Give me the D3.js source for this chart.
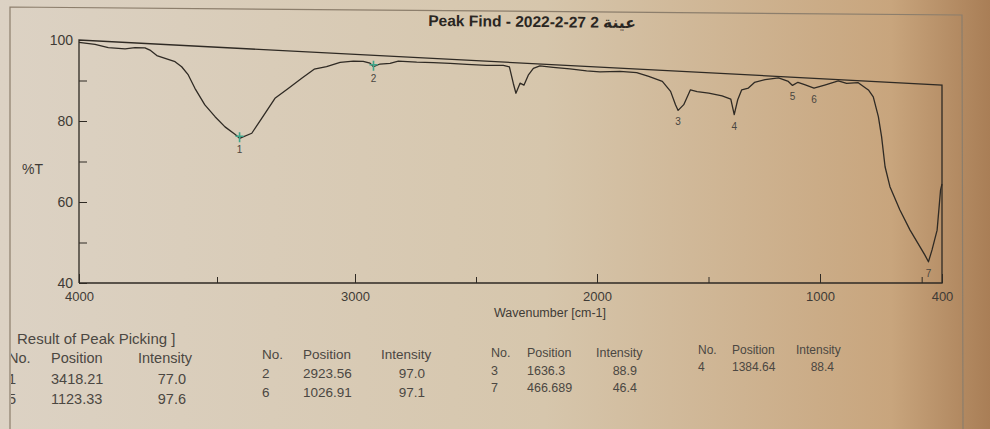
<!DOCTYPE html>
<html>
<head>
<meta charset="utf-8">
<script src="https://cdn.jsdelivr.net/npm/d3@7"></script>
<style>
  html, body { margin: 0; padding: 0; background: #d8ccb8; }
  svg { display: block; font-family: "Liberation Sans", Arial, "DejaVu Sans", sans-serif; }
</style>
</head>
<body>
<div id="pict"></div>
<script>
// spectrum: wavenumber [cm-1] and %T
const wavenumber = [4000, 3942, 3894, 3833, 3797, 3761, 3743, 3718, 3688, 3652, 3628, 3604, 3580, 3544, 3507, 3471, 3435, 3418.21,
    3374, 3338, 3290, 3242, 3193, 3148, 3103, 3054, 3006, 2966, 2938, 2923.56, 2897, 2855, 2821, 2745, 2676, 2607, 2538, 2456,
    2387, 2362, 2346, 2335, 2318, 2302, 2284, 2263, 2236, 2181, 2112, 2043, 1987, 1897, 1822, 1768, 1707, 1670, 1648, 1636.3,
    1611, 1581, 1551, 1499, 1439, 1400, 1384.64, 1369, 1351, 1321, 1294, 1246, 1186, 1142, 1123.33, 1099, 1069, 1026.91,
    977, 910, 869, 812, 762, 738, 713, 697, 680, 656, 607, 557, 508, 484, 466.689, 449, 424, 407, 400];
const transmittance = [99.4, 99.1, 98.5, 98.4, 98.8, 98.9, 98.4, 97.1, 96.5, 95.8, 94.6, 92.6, 89.3, 85.2, 82.3, 79.8, 78.0, 77.0,
    78.4, 82.3, 87.6, 90.3, 93.1, 95.6, 96.4, 97.7, 98.2, 98.3, 97.9, 97.0, 97.8, 98.1, 98.8, 98.8, 98.9, 98.9, 98.9, 98.9,
    99.1, 98.8, 94.4, 91.7, 94.5, 94.0, 96.8, 98.7, 99.5, 99.3, 99.1, 98.8, 98.7, 99.1, 99.0, 98.1, 96.9, 94.2, 90.5, 88.9,
    90.6, 94.9, 94.5, 94.2, 93.6, 92.8, 88.4, 92.7, 95.6, 96.2, 97.9, 98.9, 99.6, 98.7, 97.6, 98.6, 98.0, 97.1,
    98.2, 99.6, 99.0, 99.4, 97.4, 95.4, 89.6, 83.6, 74.7, 68.8, 61.9, 55.9, 50.9, 48.4, 46.4, 50.0, 56.0, 68.2, 70.0];

// peak picking result
const peakNo = [1, 2, 3, 4, 5, 6, 7];
const peakPos = [3418.21, 2923.56, 1636.3, 1384.64, 1123.33, 1026.91, 466.689];
const peakPosText = ["3418.21", "2923.56", "1636.3", "1384.64", "1123.33", "1026.91", "466.689"];
const peakInt = [77.0, 97.0, 88.9, 88.4, 97.6, 97.1, 46.4];

const xTicks = [4000, 3000, 2000, 1000, 400];
const xMinorTicks = [3500, 2500, 1500, 500];
const yTicks = [40, 50, 60, 70, 80, 90, 100];
const yLabelled = [40, 60, 80, 100];

const titleText = "Peak Find - 2022-2-27 2 عينة";
const xTitle = "Wavenumber [cm-1]";
const yTitle = "%T";
const tableTitle = "Result of Peak Picking ]";
const tableHead = ["No.", "Position", "Intensity"];

const width = 990, height = 429;

draw_pict();

function draw_pict() {
    const config = {
        left: 79, bottom: 283,
        // the photo is taken at an angle: the top of the frame falls to the right
        hLeft: 243, hRight: 198,
        ink: "#2f2a24",
        text: "#3f3b36",
        green: "#3fa58a"
    }
    const svg = d3.select("#pict")
        .append("svg")
        .attr("width", width)
        .attr("height", height)

    // screen background
    const defs = svg.append("defs")
    const grad = defs.append("linearGradient").attr("id", "bg")
    grad.append("stop").attr("offset", "0%").attr("stop-color", "#dcd2c4")
    grad.append("stop").attr("offset", "55%").attr("stop-color", "#d6c6ac")
    grad.append("stop").attr("offset", "90%").attr("stop-color", "#c8a57d")
    grad.append("stop").attr("offset", "100%").attr("stop-color", "#a97e56")
    defs.append("clipPath").attr("id", "win")
        .append("rect").attr("x", 11).attr("y", 0).attr("width", 950).attr("height", height)
    svg.append("rect").attr("width", width).attr("height", height).attr("fill", "url(#bg)")

    // window border
    svg.append("path")
        .attr("d", "M10,429 L10,7 L962,15 L963,429")
        .attr("fill", "none")
        .attr("stroke", "#8c7e6c")
        .attr("stroke-width", 1.2)

    const scale_x = d3.scaleLinear()
        .domain([4000, 3000, 2000, 1000, 400])
        .range([config.left, 355, 597, 820, 942]);
    const scale_y = d3.scaleLinear()
        .domain([40, 100])
        .range([config.bottom, config.bottom - config.hLeft]);
    const scale_h = d3.scaleLinear()
        .domain([config.left, 942])
        .range([config.hLeft, config.hRight]);
    const frac = d3.scaleLinear().domain([40, 100]).range([0, 1]);

    const px = (w) => scale_x(w);
    const py = (w, t) => config.bottom - frac(t) * scale_h(scale_x(w));

    // frame
    svg.append("path")
        .attr("d", d3.line()([[px(4000), py(4000, 40)], [px(4000), py(4000, 100)], [px(400), py(400, 100)], [px(400), py(400, 40)], [px(4000), py(4000, 40)]]))
        .attr("fill", "none")
        .attr("stroke", config.ink)
        .attr("stroke-width", 1.3)

    // y axis
    const axis_y = d3.axisLeft(scale_y)
        .tickValues(yTicks)
        .tickSizeInner(-8)
        .tickSizeOuter(0)
        .tickPadding(6)
        .tickFormat(d => yLabelled.includes(d) ? d : "")
    const g_axisY = svg.append("g")
        .attr("transform", `translate(${config.left}, 0)`)
        .call(axis_y)
    g_axisY.select(".domain").remove()
    g_axisY.selectAll("line").attr("stroke", config.ink)
    g_axisY.selectAll("text")
        .attr("font-size", "14px")
        .attr("font-family", "Liberation Sans, Arial, sans-serif")
        .attr("fill", config.text)

    // x axis
    const axis_x = d3.axisBottom(scale_x)
        .tickValues(xTicks)
        .tickSizeInner(-9)
        .tickSizeOuter(0)
        .tickPadding(9)
        .tickFormat(d3.format("d"))
    const g_axisX = svg.append("g")
        .attr("transform", `translate(0, ${config.bottom})`)
        .call(axis_x)
    g_axisX.select(".domain").remove()
    g_axisX.selectAll("line").attr("stroke", config.ink)
    g_axisX.selectAll("text")
        .attr("font-size", "13px")
        .attr("font-family", "Liberation Sans, Arial, sans-serif")
        .attr("fill", config.text)
    const axis_x_minor = d3.axisBottom(scale_x)
        .tickValues(xMinorTicks)
        .tickSizeInner(-6)
        .tickSizeOuter(0)
        .tickFormat("")
    const g_minor = svg.append("g")
        .attr("transform", `translate(0, ${config.bottom})`)
        .call(axis_x_minor)
    g_minor.select(".domain").remove()
    g_minor.selectAll("line").attr("stroke", config.ink)

    // axis titles
    svg.append("text")
        .attr("x", 550).attr("y", 317)
        .attr("text-anchor", "middle")
        .attr("font-size", "12.5px")
        .attr("fill", config.text)
        .text(xTitle)
    svg.append("text")
        .attr("x", 22).attr("y", 174)
        .attr("font-size", "14px")
        .attr("fill", config.text)
        .text(yTitle)

    // title
    svg.append("text")
        .attr("x", 532).attr("y", 27)
        .attr("text-anchor", "middle")
        .attr("font-size", "15.5px")
        .attr("font-weight", "bold")
        .attr("fill", "#2a2622")
        .attr("transform", "rotate(0.6, 532, 27)")
        .text(titleText)

    // spectrum
    const data = wavenumber.map((w, i) => ({ w: w, t: transmittance[i] }))
    svg.append("path")
        .datum(data)
        .attr("d", d3.line().x(d => px(d.w)).y(d => py(d.w, d.t)))
        .attr("fill", "none")
        .attr("stroke", config.ink)
        .attr("stroke-width", 1.3)
        .attr("stroke-linejoin", "round")

    // peak markers and numbers
    const peaks = peakNo.map((n, i) => ({ n: n, w: peakPos[i], t: peakInt[i] }))
    const g_peak = svg.append("g")
    g_peak.selectAll("path.mark")
        .data(peaks.filter(d => d.n <= 2))
        .join("path")
        .attr("class", "mark")
        .attr("d", d => {
            const x = px(d.w), y = py(d.w, d.t)
            return `M${x - 4},${y - 2}L${x + 4},${y - 2}M${x},${y - 6}L${x},${y + 4}`
        })
        .attr("stroke", config.green)
        .attr("stroke-width", 1.6)
    g_peak.selectAll("text")
        .data(peaks)
        .join("text")
        .attr("x", d => px(d.w))
        .attr("y", d => py(d.w, d.t) + 15)
        .attr("text-anchor", "middle")
        .attr("font-size", "10px")
        .attr("fill", "#4a4640")
        .text(d => d.n)

    // peak table, four groups laid out along the tilted screen
    const groups = [
        { no: 8, pos: 51, int: 138, head: 363, row: 20.5, size: 14.5, iEnd: 186 },
        { no: 262, pos: 303, int: 381, head: 359, row: 19, size: 13.5, iEnd: 425 },
        { no: 491, pos: 527, int: 596, head: 357, row: 17.5, size: 12.5, iEnd: 637 },
        { no: 698, pos: 732, int: 796, head: 354, row: 17, size: 12, iEnd: 834 }
    ]
    const g_table = svg.append("g")
        .attr("clip-path", "url(#win)")
        .attr("fill", "#4b4742")
    g_table.append("text")
        .attr("x", 17).attr("y", 344)
        .attr("font-size", "15px")
        .text(tableTitle)
    groups.forEach((g, k) => {
        [g.no, g.pos, g.int].forEach((x, j) => {
            g_table.append("text")
                .attr("x", x).attr("y", g.head)
                .attr("font-size", g.size + "px")
                .text(tableHead[j])
        })
        peaks.forEach((d, i) => {
            if (i % 4 != k) return;
            const y = g.head + g.row * (Math.floor(i / 4) + 1)
            g_table.append("text").attr("x", g.no).attr("y", y)
                .attr("font-size", g.size + "px").text(d.n)
            g_table.append("text").attr("x", g.pos).attr("y", y)
                .attr("font-size", g.size + "px").text(peakPosText[i])
            g_table.append("text").attr("x", g.iEnd).attr("y", y)
                .attr("text-anchor", "end")
                .attr("font-size", g.size + "px").text(d3.format(".1f")(d.t))
        })
    })
}
</script>
</body>
</html>
